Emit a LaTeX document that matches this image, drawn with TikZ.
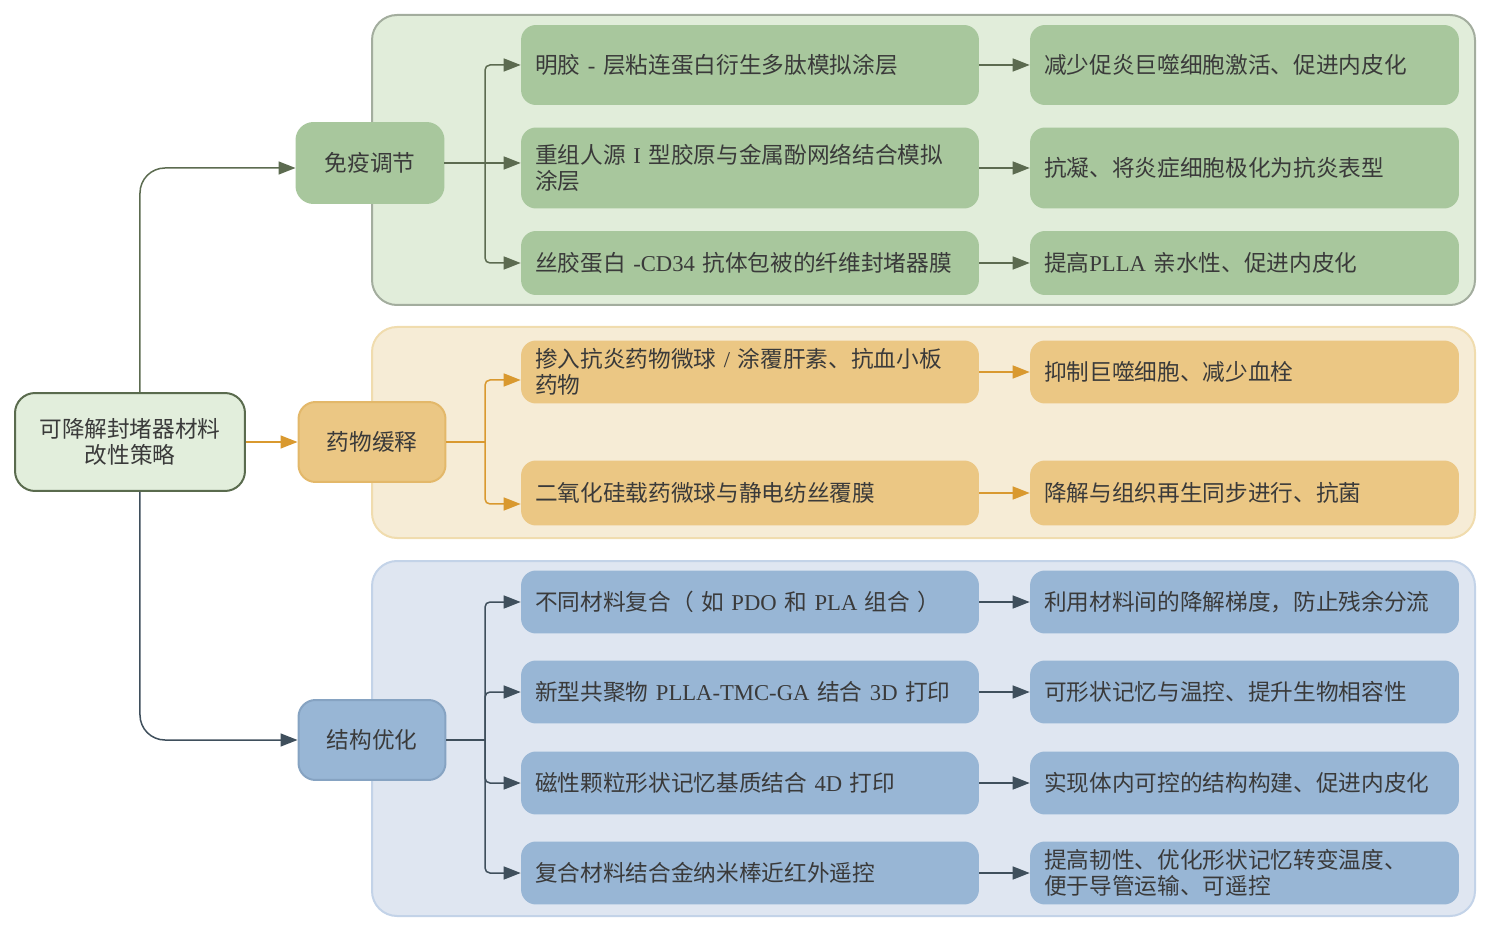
\documentclass[tikz,border=0pt]{standalone}
\usepackage{fontspec}
\setmainfont{Noto Sans CJK SC}
\newfontfamily\lat{Liberation Serif}
\usepackage{xcolor}
\definecolor{textdark}{HTML}{3A3A3A}
\definecolor{rootfill}{HTML}{E2EEDC}
\definecolor{rootedge}{HTML}{5A6B4E}
\definecolor{greenpanel}{HTML}{E1EDDA}
\definecolor{greenedge}{HTML}{A3AD9E}
\definecolor{greenbox}{HTML}{A8C79D}
\definecolor{greenline}{HTML}{5C6B50}
\definecolor{orangepanel}{HTML}{F6ECD6}
\definecolor{orangeedge}{HTML}{F0DCAE}
\definecolor{orangebox}{HTML}{EBC784}
\definecolor{orangecat}{HTML}{E3B86A}
\definecolor{orangeline}{HTML}{D9992F}
\definecolor{bluepanel}{HTML}{DFE6F1}
\definecolor{blueedge}{HTML}{C3D3E8}
\definecolor{bluebox}{HTML}{98B6D5}
\definecolor{bluecat}{HTML}{86A3C2}
\definecolor{blueline}{HTML}{3F4F5C}
\usepackage{tikz}
\usetikzlibrary{arrows.meta,calc}

\begin{document}
\begin{tikzpicture}[x=0.02cm, y=-0.02cm,
    every node/.style={font=\fontsize{12.9}{15}\selectfont, text=textdark},
    item/.style={rounded corners=0.3cm, inner xsep=0.28cm, text width=8.6cm, align=left},
    result/.style={rounded corners=0.3cm, inner xsep=0.28cm, text width=8.02cm, align=left},
    cat/.style={rounded corners=0.34cm, minimum width=2.94cm, minimum height=1.6cm, line width=0.04cm},
    link/.style={line width=0.03cm, -{Triangle[length=0.34cm,width=0.26cm]}}]
        \useasboundingbox (0,0) rectangle (1491,932);
        % Panels
        \draw[greenedge, fill=greenpanel, line width=0.04cm, rounded corners=0.5cm] (372,15) rectangle (1475,305);
        \draw[orangeedge, fill=orangepanel, line width=0.04cm, rounded corners=0.5cm] (372,327) rectangle (1475,538);
        \draw[blueedge, fill=bluepanel, line width=0.04cm, rounded corners=0.5cm] (372,561) rectangle (1475,916);
        % Root and categories
        \node[draw=rootedge, fill=rootfill, line width=0.04cm, rounded corners=0.4cm, minimum width=4.6cm, minimum height=1.96cm, align=center] (root) at (130,442) {可降解封堵器材料\\改性策略};
        \node[cat, fill=greenbox, draw=greenbox] (imm) at (370,163) {免疫调节};
        \node[cat, fill=orangebox, draw=orangecat] (drug) at (372,442) {药物缓释};
        \node[cat, fill=bluebox, draw=bluecat] (struct) at (372,740) {结构优化};
        % Immune regulation
        \node[item, fill=greenbox, minimum height=1.6cm] (g1) at (750,65) {明胶 {\lat -} 层粘连蛋白衍生多肽模拟涂层};
        \node[item, fill=greenbox, minimum height=1.62cm] (g2) at (750,168) {重组人源 {\lat I} 型胶原与金属酚网络结合模拟\\涂层};
        \node[item, fill=greenbox, minimum height=1.28cm] (g3) at (750,263) {丝胶蛋白 {\lat -CD34} 抗体包被的纤维封堵器膜};
        \node[result, fill=greenbox, minimum height=1.6cm] (g1-r) at (1244.5,65) {减少促炎巨噬细胞激活、促进内皮化};
        \node[result, fill=greenbox, minimum height=1.62cm] (g2-r) at (1244.5,168) {抗凝、将炎症细胞极化为抗炎表型};
        \node[result, fill=greenbox, minimum height=1.28cm] (g3-r) at (1244.5,263) {提高{\lat PLLA} 亲水性、促进内皮化};
        % Drug release
        \node[item, fill=orangebox, minimum height=1.26cm] (o1) at (750,372) {掺入抗炎药物微球 {\lat /} 涂覆肝素、抗血小板\\药物};
        \node[item, fill=orangebox, minimum height=1.3cm] (o2) at (750,493) {二氧化硅载药微球与静电纺丝覆膜};
        \node[result, fill=orangebox, minimum height=1.26cm] (o1-r) at (1244.5,372) {抑制巨噬细胞、减少血栓};
        \node[result, fill=orangebox, minimum height=1.3cm] (o2-r) at (1244.5,493) {降解与组织再生同步进行、抗菌};
        % Structure optimisation
        \node[item, fill=bluebox, minimum height=1.26cm] (s1) at (750,602) {不同材料复合（ 如 {\lat PDO} 和 {\lat PLA} 组合 ）};
        \node[item, fill=bluebox, minimum height=1.26cm] (s2) at (750,692) {新型共聚物 {\lat PLLA-TMC-GA} 结合 {\lat 3D} 打印};
        \node[item, fill=bluebox, minimum height=1.26cm] (s3) at (750,783) {磁性颗粒形状记忆基质结合 {\lat 4D} 打印};
        \node[item, fill=bluebox, minimum height=1.26cm] (s4) at (750,873) {复合材料结合金纳米棒近红外遥控};
        \node[result, fill=bluebox, minimum height=1.26cm] (s1-r) at (1244.5,602) {利用材料间的降解梯度，防止残余分流};
        \node[result, fill=bluebox, minimum height=1.26cm] (s2-r) at (1244.5,692) {可形状记忆与温控、提升生物相容性};
        \node[result, fill=bluebox, minimum height=1.26cm] (s3-r) at (1244.5,783) {实现体内可控的结构构建、促进内皮化};
        \node[result, fill=bluebox, minimum height=1.26cm] (s4-r) at (1244.5,873) {提高韧性、优化形状记忆转变温度、\\便于导管运输、可遥控};
        % Root connectors
        \draw[link, greenline, rounded corners=0.5cm] ([xshift=0.2cm]root.north) |- ([yshift=-0.1cm]imm.west);
        \draw[link, orangeline] (root.east) -- (drug.west);
        \draw[link, blueline, rounded corners=0.5cm] ([xshift=0.2cm]root.south) |- (struct.west);
        % Branches
        \coordinate (gfork) at (485,163);
        \coordinate (ofork) at (485,442);
        \coordinate (sfork) at (485,740);
        \draw[link, greenline] (imm.east) -- (imm.east -| g2.west);
        \foreach \n in {g1,g3} \draw[link, greenline, rounded corners=0.1cm] (gfork) |- (\n.west);
        \draw[orangeline, line width=0.03cm] (drug.east) -- (ofork);
        \draw[link, orangeline, rounded corners=0.1cm] (ofork) |- ([yshift=-0.16cm]o1.west);
        \draw[link, orangeline, rounded corners=0.1cm] (ofork) |- ([yshift=-0.22cm]o2.west);
        \draw[blueline, line width=0.03cm] (struct.east) -- (sfork);
        \foreach \n in {s1,s2,s3,s4} \draw[link, blueline, rounded corners=0.1cm] (sfork) |- (\n.west);
        % Effects
        \foreach \n in {g1,g2,g3} \draw[link, greenline] (\n.east) -- (\n-r.west);
        \foreach \n in {o1,o2} \draw[link, orangeline] (\n.east) -- (\n-r.west);
        \foreach \n in {s1,s2,s3,s4} \draw[link, blueline] (\n.east) -- (\n-r.west);
      \end{tikzpicture}
\end{document}
